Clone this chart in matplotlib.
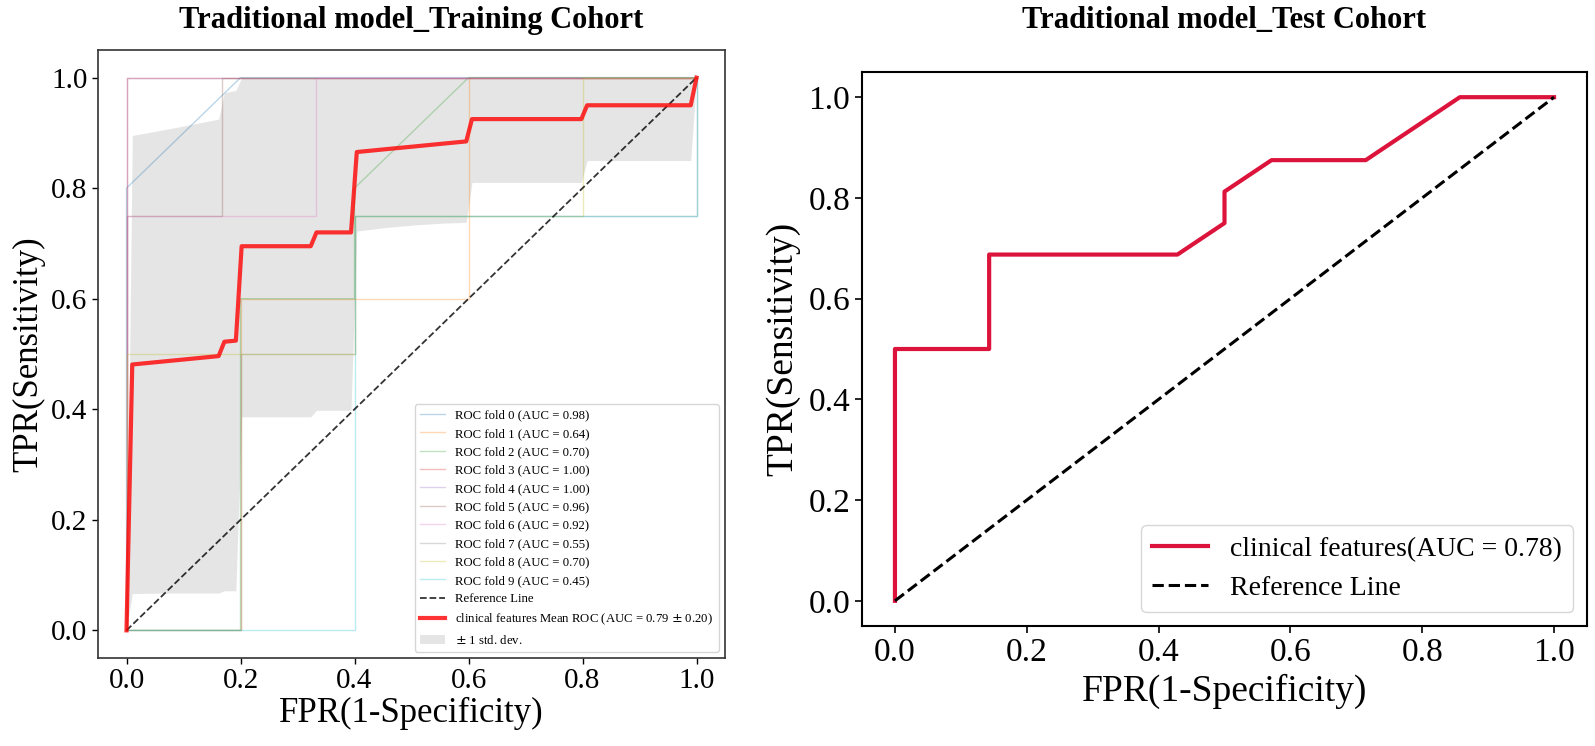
import numpy as np
import matplotlib
matplotlib.use("Agg")
import matplotlib.pyplot as plt

plt.rcParams['font.family'] = ['Liberation Serif', 'DejaVu Serif']

# ---------------- data: training cohort (10-fold CV) ----------------
fold_fpr = [
    [0.0, 0.0, 0.2, 1.0],
    [0.0, 0.2, 0.2, 0.6, 0.6, 1.0],
    [0.0, 0.2, 0.2, 0.4, 0.4, 0.6, 1.0],
    [0.0, 0.0, 1.0],
    [0.0, 0.0, 1.0],
    [0.0, 0.0, 0.1667, 0.1667, 1.0],
    [0.0, 0.0, 0.3333, 0.3333, 1.0],
    [0.0, 0.2, 0.2, 0.4, 0.4, 1.0, 1.0],
    [0.0, 0.0, 0.4, 0.4, 0.8, 0.8, 1.0],
    [0.0, 0.4, 0.4, 1.0, 1.0],
]
fold_tpr = [
    [0.0, 0.8, 1.0, 1.0],
    [0.0, 0.0, 0.6, 0.6, 1.0, 1.0],
    [0.0, 0.0, 0.6, 0.6, 0.8, 1.0, 1.0],
    [0.0, 1.0, 1.0],
    [0.0, 1.0, 1.0],
    [0.0, 0.75, 0.75, 1.0, 1.0],
    [0.0, 0.75, 0.75, 1.0, 1.0],
    [0.0, 0.0, 0.5, 0.5, 0.75, 0.75, 1.0],
    [0.0, 0.5, 0.5, 0.75, 0.75, 1.0, 1.0],
    [0.0, 0.0, 0.75, 0.75, 1.0],
]
fold_auc = [0.98, 0.64, 0.70, 1.00, 1.00, 0.96, 0.92, 0.55, 0.70, 0.45]

mean_fpr = [0.0, 0.0101, 0.0808, 0.1616, 0.1717, 0.1919, 0.2020, 0.3232, 0.3333,
            0.3939, 0.4040, 0.4545, 0.5051, 0.5556, 0.5960, 0.6061, 0.7980,
            0.8081, 0.9899, 1.0]
mean_tpr = [0.0, 0.4810, 0.4881, 0.4962, 0.5222, 0.5242, 0.6950, 0.6950, 0.7200,
            0.7200, 0.8654, 0.8705, 0.8755, 0.8806, 0.8846, 0.9250, 0.9250,
            0.9500, 0.9500, 1.0]
std_tpr = [0.0, 0.4144, 0.4205, 0.4287, 0.4506, 0.4526, 0.3086, 0.3086, 0.3219,
           0.3219, 0.1431, 0.1417, 0.1420, 0.1438, 0.1464, 0.1146, 0.1146,
           0.1000, 0.1000, 0.0]
mean_auc, std_auc = 0.79, 0.20

# ---------------- data: test cohort ----------------
test_fpr = [0.0, 0.0, 0.1429, 0.1429, 0.4286, 0.5, 0.5, 0.5714, 0.7143, 0.8571, 1.0]
test_tpr = [0.0, 0.5, 0.5, 0.6875, 0.6875, 0.75, 0.8125, 0.875, 0.875, 1.0, 1.0]
test_auc = 0.78

ticks = [0.0, 0.2, 0.4, 0.6, 0.8, 1.0]
tick_labels = ['0.0', '0.2', '0.4', '0.6', '0.8', '1.0']

fig = plt.figure(figsize=(15.95, 7.46), dpi=100)

# ---------------- left panel ----------------
ax1 = fig.add_axes([98/1595, 1-658/746, 627/1595, 608/746])
for i in range(10):
    ax1.plot(fold_fpr[i], fold_tpr[i], lw=1, alpha=0.3,
             label='ROC fold %d (AUC = %.2f)' % (i, fold_auc[i]))
ax1.plot([0, 1], [0, 1], linestyle='--', lw=1.3, color='k', alpha=0.8,
         label='Reference Line')
ax1.plot(mean_fpr, mean_tpr, color='r', lw=3, alpha=0.8,
         label=r'clinical features Mean ROC (AUC = %0.2f $\pm$ %0.2f)' % (mean_auc, std_auc))
m = np.array(mean_tpr)
s = np.array(std_tpr)
upper = np.minimum(m + s, 1)
lower = np.maximum(m - s, 0)
ax1.fill_between(mean_fpr, lower, upper, color='grey', alpha=0.2,
                 label=r'$\pm$ 1 std. dev.', lw=0)
ax1.set_xlim(-0.05, 1.05)
ax1.set_ylim(-0.05, 1.05)
ax1.set_xticks(ticks)
ax1.set_xticklabels(tick_labels)
ax1.set_yticks(ticks)
ax1.set_yticklabels(tick_labels)
ax1.tick_params(labelsize=21, length=4, width=1)
ax1.set_xlabel('FPR(1-Specificity)', fontsize=25, labelpad=2)
ax1.set_ylabel('TPR(Sensitivity)', fontsize=25, labelpad=4)
ax1.set_title('Traditional model_Training Cohort', fontsize=22, fontweight='bold', pad=16)
for sp in ax1.spines.values():
    sp.set_color('#333333')
    sp.set_linewidth(1.2)
leg1 = ax1.legend(loc='lower right', fontsize=9.2, prop={'family': ['Liberation Serif'], 'size': 9.2})

# ---------------- right panel ----------------
ax2 = fig.add_axes([862/1595, 1-626/746, 725/1595, 554/746])
ax2.plot(test_fpr, test_tpr, color='crimson', lw=3,
         label='clinical features(AUC = %.2f)' % test_auc)
ax2.plot([0, 1], [0, 1], linestyle='--', color='k', lw=2.2, label='Reference Line')
ax2.set_xlim(-0.05, 1.05)
ax2.set_ylim(-0.05, 1.05)
ax2.set_xticks(ticks)
ax2.set_xticklabels(tick_labels)
ax2.set_yticks(ticks)
ax2.set_yticklabels(tick_labels)
ax2.tick_params(labelsize=24, length=5, width=1.2)
ax2.set_xlabel('FPR(1-Specificity)', fontsize=27, labelpad=4)
ax2.set_ylabel('TPR(Sensitivity)', fontsize=27, labelpad=6)
ax2.set_title('Traditional model_Test Cohort', fontsize=22, fontweight='bold', pad=32)
for sp in ax2.spines.values():
    sp.set_color('black')
    sp.set_linewidth(1.5)
ax2.legend(loc='lower right', fontsize=20)

fig.savefig('out.png', dpi=100)
